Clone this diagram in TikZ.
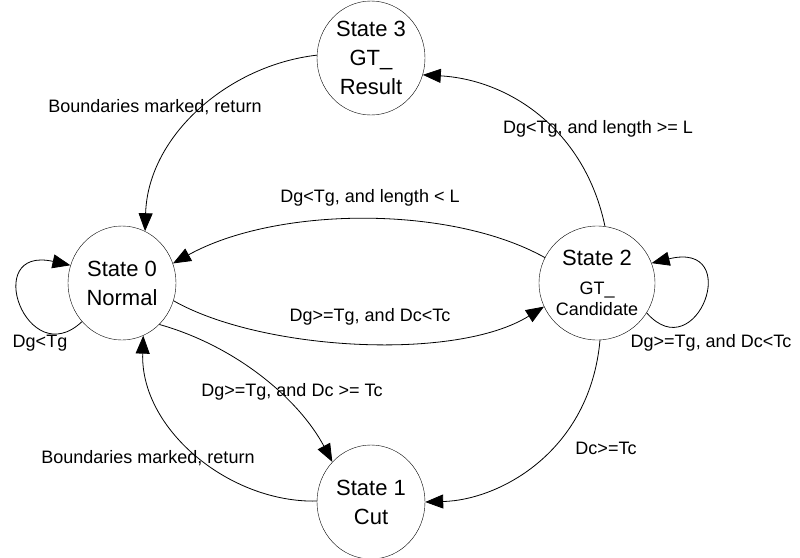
\documentclass[tikz,border=0pt]{standalone}
\usepackage{fontspec}
\setmainfont{Liberation Sans}
\usetikzlibrary{arrows.meta, shapes.geometric}

\begin{document}
\begin{tikzpicture}[x=1pt, y=-1pt,
  state/.style={draw, ellipse, minimum width=108pt, minimum height=114pt, inner sep=0pt, align=center, font=\fontsize{22}{29}\selectfont},
  lbl/.style={font=\fontsize{18}{21}\selectfont, inner sep=0pt},
  edge/.style={line width=0.8pt, -{Triangle[length=18pt, width=14pt]}}]
  \useasboundingbox (0,0) rectangle (800,557);
  \node[state] (s0) at (122,283) {State 0\\Normal};
  \node[state] (s1) at (371,502) {State 1\\Cut};
  \node[state] (s2) at (597,283) {State 2\\{\fontsize{18}{21}\selectfont GT\_}\\[-8pt]{\fontsize{18}{21}\selectfont Candidate}};
  \node[state] (s3) at (371,58) {State 3\\GT\_\\Result};
  \draw[edge] (s3.177) .. controls +(-88,10) and +(3,-96) .. (s0.66);
  \draw[edge] (s2.82) .. controls +(-20,-96) and +(87,5) .. (s3.342);
  \draw[edge] (s2.154) .. controls +(-95,-53) and +(103,-57) .. (s0.21);
  \draw[edge] (s0.341) .. controls +(88,50) and +(-88,55) .. (s2.204);
  \draw[edge] (s0.224) .. controls +(-55,52) and +(-90,-20) .. (s0.161);
  \draw[edge] (s2.329) .. controls +(50,57) and +(93,-23) .. (s2.20);
  \draw[edge] (s0.312) .. controls +(78,22) and +(-33,-62) .. (s1.134);
  \draw[edge] (s1.179) .. controls +(-87,2) and +(-3,94) .. (s0.292);
  \draw[edge] (s2.273) .. controls +(-10,111) and +(75,-2) .. (s1.0);
  \node[lbl] (l30) at (155,107) {Boundaries marked, return};
  \node[lbl] (l23) at (598,129) {Dg<Tg, and length >= L};
  \node[lbl] (l20) at (370,198) {Dg<Tg, and length < L};
  \node[lbl] (l02) at (370,317) {Dg>=Tg, and Dc<Tc};
  \node[lbl] (l00) at (40,343) {Dg<Tg};
  \node[lbl] (l22) at (711,343) {Dg>=Tg, and Dc<Tc};
  \node[lbl] (l01) at (292,392) {Dg>=Tg, and Dc >= Tc};
  \node[lbl] (l10) at (148,458) {Boundaries marked, return};
  \node[lbl] (l21) at (606,448) {Dc>=Tc};
\end{tikzpicture}
\end{document}
